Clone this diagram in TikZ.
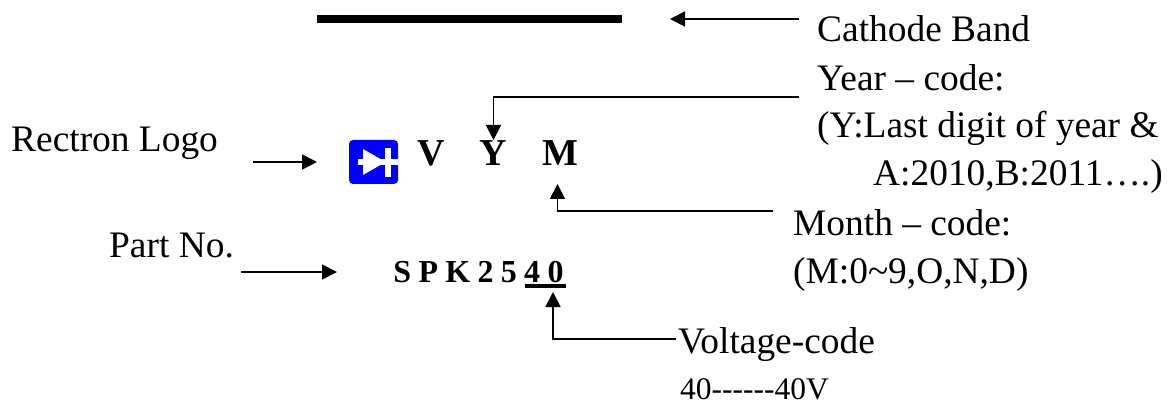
\documentclass[tikz,border=0pt]{standalone}
\usepackage{fontspec}
\setmainfont{Liberation Serif}
\usetikzlibrary{arrows.meta}
\tikzset{
	labeltext/.style={anchor=base west, inner sep=0pt, font=\fontsize{37.4}{37.4}\selectfont},
	smalltext/.style={anchor=base west, inner sep=0pt, font=\fontsize{31.5}{31.5}\selectfont},
	markletter/.style={anchor=base, inner sep=0pt, font=\fontsize{38}{38}\selectfont\bfseries},
	partletter/.style={anchor=base, inner sep=0pt, font=\fontsize{32}{32}\selectfont\bfseries},
	pointer/.style={line width=1.8pt, -{Triangle[length=15pt, width=15pt]}},
}
\def\partgap{\kern7.3pt}
\begin{document}
\begin{tikzpicture}[x=1pt, y=-1pt]
		%%%%% START %%%%%
		\useasboundingbox (0, 0) rectangle (1175, 406);
		
		\node[fill=black, inner sep=0pt, minimum width=305pt, minimum height=8pt] (band) at (469.5, 19) {};
		\node[labeltext] (cathode) at (817, 42) {Cathode Band};
		\coordinate (cathodestart) at (799, 19);
		\coordinate (bandend) at (670, 19);
		\draw[pointer] (cathodestart) -- (bandend);
		
		\node[labeltext] (year) at (817, 91) {Year -- code:};
		\node[labeltext] (yearrule) at (817, 138) {(Y:Last digit of year \&};
		\node[labeltext] (yearlist) at (873, 186) {A:2010,B:2011\dots.)};
		\node[labeltext] (month) at (793, 235) {Month -- code:};
		\node[labeltext] (monthrule) at (793, 283) {(M:0\textasciitilde9,O,N,D)};
		\node[labeltext] (logotext) at (11, 152) {Rectron Logo};
		\node[labeltext] (partno) at (109, 257) {Part No.};
		\node[labeltext] (voltage) at (678, 353) {Voltage-code};
		\node[smalltext] (voltagelist) at (680, 399) {40{-}{-}{-}{-}{-}{-}40V};
		
		\node[markletter] (letterv) at (431, 166) {V};
		\node[markletter] (lettery) at (493.5, 166) {Y};
		\node[markletter] (letterm) at (560.5, 166) {M};
		
		\node[partletter] (partname) at (478.5, 282) {S\partgap P\partgap K\partgap 2\partgap 5\partgap 4\partgap 0};
		\draw[line width=3.4pt] (525, 286) -- (566, 286);
		
		\node[fill={rgb,255:red,0;green,0;blue,255}, rounded corners=4pt, inner sep=0pt, minimum width=49pt, minimum height=44pt] (logo) at (373.5, 162) {};
		\fill[white] (363, 149) -- (385.5, 162) -- (363, 175) -- cycle;
		\fill[white] (385, 148) rectangle (391, 177);
		\fill[white] (358, 159.5) rectangle (398, 165.5);
		
		\coordinate (logostart) at (253, 162);
		\coordinate (logoend) at (317, 162);
		\draw[pointer] (logostart) -- (logoend);
		
		\coordinate (partstart) at (241, 272);
		\coordinate (partend) at (337, 272);
		\draw[pointer] (partstart) -- (partend);
		
		\coordinate (yearstart) at (799, 97);
		\coordinate (yearbend) at (493.5, 97);
		\coordinate (yearend) at (493.5, 140);
		\draw[pointer] (yearstart) -- (yearbend) -- (yearend);
		
		\coordinate (monthstart) at (773, 211);
		\coordinate (monthbend) at (557.5, 211);
		\coordinate (monthend) at (557.5, 184);
		\draw[pointer] (monthstart) -- (monthbend) -- (monthend);
		
		\coordinate (voltagebend) at (553, 339);
		\coordinate (voltageend) at (553, 292);
		\coordinate (voltagestart) at (676, 339);
		\draw[pointer] (voltagestart) -- (voltagebend) -- (voltageend);
		%%%%% END %%%%%
	\end{tikzpicture}
\end{document}
